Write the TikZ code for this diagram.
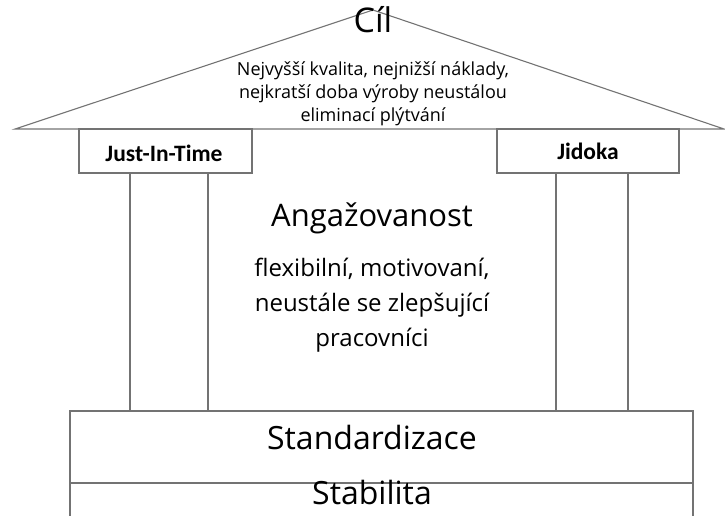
\documentclass[tikz,border=0pt]{standalone}
\usepackage{fontspec}
\setmainfont{Open Sans}
\newfontfamily\labelfont{Carlito}
\begin{document}
\begin{tikzpicture}[x=1pt,y=-1pt,
  edge/.style={draw=black!55,line width=1.1pt},
  headfont/.style={font=\labelfont\bfseries\fontsize{23.5}{26}\selectfont},
  txt/.style={inner sep=0pt,align=center,text=black}]
\useasboundingbox (0,0) rectangle (725,515);
% roof
\coordinate (apex) at (373,10);
\coordinate (roofL) at (15,129);
\coordinate (roofR) at (724,129);
\draw[edge,line join=miter] (roofL) -- (apex) -- (roofR) -- cycle;
% pillar capitals
\draw[edge] (79,129) rectangle (252,173);
\node[txt,headfont] (jit) at (164,153) {Just-In-Time};
\draw[edge] (497,129) rectangle (679,173);
\node[txt,headfont] (jid) at (588,151) {Jidoka};
% pillars
\draw[edge] (130,173) -- (130,411);
\draw[edge] (208,173) -- (208,411);
\draw[edge] (556,173) -- (556,411);
\draw[edge] (628,173) -- (628,411);
% foundation
\begin{scope}
\clip (0,0) rectangle (725,515);
\draw[edge] (70,411) rectangle (693,540);
\draw[edge] (70,483) -- (693,483);
\end{scope}
% texts
\node[txt,font=\fontsize{34}{36}\selectfont] (cil) at (373,20) {Cíl};
\node[txt,font=\fontsize{18}{23}\selectfont] (goal) at (373,94)
  {Nejvyšší kvalita, nejnižší náklady,\\nejkratší doba výroby neustálou\\eliminací plýtvání};
\node[txt,font=\fontsize{31}{34}\selectfont] (ang) at (372,218) {Angažovanost};
\node[txt,font=\fontsize{24}{35}\selectfont] (ppl) at (372,305)
  {flexibilní, motivovaní,\\neustále se zlepšující\\pracovníci};
\node[txt,font=\fontsize{32}{34}\selectfont] (std) at (372,437) {Standardizace};
\node[txt,font=\fontsize{32}{34}\selectfont] (stab) at (372,492) {Stabilita};
\end{tikzpicture}
\end{document}
